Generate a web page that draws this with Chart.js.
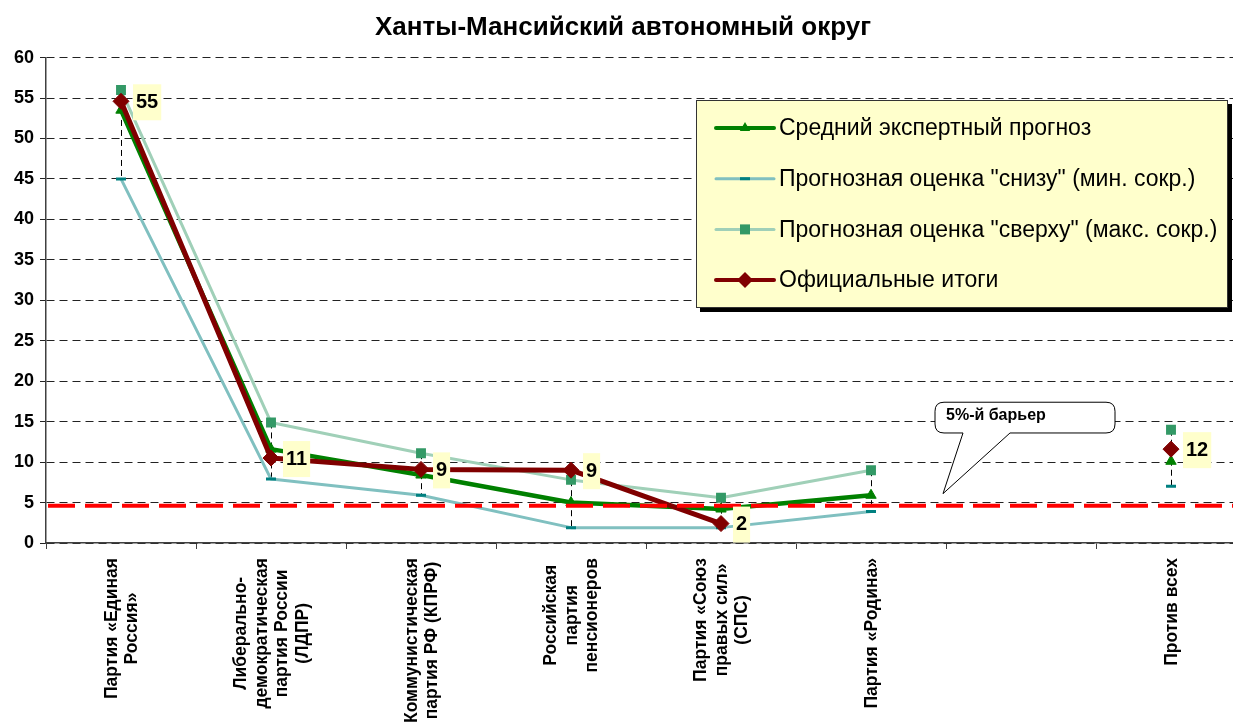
<!DOCTYPE html>
<html><head><meta charset="utf-8">
<script src="https://cdn.jsdelivr.net/npm/chart.js@4/dist/chart.umd.min.js"></script>
<style>html,body{margin:0;padding:0;overflow:hidden;background:#fff;}#wrap{width:1270px;height:724px;}</style>
</head><body><div id="wrap"><canvas id="c" width="1270" height="724"></canvas></div>
<script>
const chartTitle = 'Ханты-Мансийский автономный округ';
const categories = [
  ['Партия «Единая', 'Россия»'],
  ['Либерально-', 'демократическая', 'партия России', '(ЛДПР)'],
  ['Коммунистическая', 'партия РФ (КПРФ)'],
  ['Российская', 'партия', 'пенсионеров'],
  ['Партия «Союз', 'правых сил»', '(СПС)'],
  ['Партия «Родина»'],
  [''],
  ['Против всех']
];
const seriesNames = ['Средний экспертный прогноз', 'Прогнозная оценка "снизу" (мин. сокр.)', 'Прогнозная оценка "сверху" (макс. сокр.)', 'Официальные итоги'];
const meanForecast    = [53.5, 11.6, 8.4, 5.0, 4.2, 5.9, null, 10.1];
const lowEstimate     = [45.0, 7.9, 5.9, 1.9, 1.9, 3.9, null, 7.0];
const highEstimate    = [56.0, 14.9, 11.1, 7.8, 5.6, 9.0, null, 14.0];
const officialResults = [54.6, 10.5, 9.1, 9.0, 2.4, null, null, 11.6];
const yTickValues = [0, 5, 10, 15, 20, 25, 30, 35, 40, 45, 50, 55, 60];
const barrierValue = 4.6;
const barrierLabel = '5%-й барьер';

const FONT = "'Liberation Sans', Arial, sans-serif";

const colors = {
  mean: '#008000', low: '#80C0C0', lowMark: '#008080', high: '#A0D0B8', highMark: '#339966', off: '#800000'
};

function drawMarker(ctx, kind, x, y) {
  ctx.save();
  if (kind === 0) { ctx.fillStyle = colors.mean; ctx.beginPath(); ctx.moveTo(x, y - 6); ctx.lineTo(x + 5.2, y + 3); ctx.lineTo(x - 5.2, y + 3); ctx.closePath(); ctx.fill(); }
  if (kind === 1) { ctx.fillStyle = colors.lowMark; ctx.fillRect(x - 5, y - 1.5, 10, 3); }
  if (kind === 2) { ctx.fillStyle = colors.highMark; ctx.fillRect(x - 5, y - 5, 10, 10); }
  if (kind === 3) { ctx.fillStyle = colors.off; ctx.beginPath(); ctx.moveTo(x, y - 8); ctx.lineTo(x + 8, y); ctx.lineTo(x, y + 8); ctx.lineTo(x - 8, y); ctx.closePath(); ctx.fill(); }
  ctx.restore();
}

const extras = {
  id: 'extras',
  beforeDatasetsDraw(chart) {
    const ctx = chart.ctx, xs = chart.scales.x, ys = chart.scales.y;
    ctx.save();
    ctx.strokeStyle = '#000'; ctx.lineWidth = 1; ctx.setLineDash([6, 4]);
    for (let i = 0; i < categories.length; i++) {
      const vals = chart.data.datasets.map(d => d.data[i]).filter(v => v !== null && v !== undefined);
      if (vals.length < 2) continue;
      const x = Math.round(xs.getPixelForValue(i)) + 0.5;
      ctx.beginPath();
      ctx.moveTo(x, ys.getPixelForValue(Math.max(...vals)));
      ctx.lineTo(x, ys.getPixelForValue(Math.min(...vals)));
      ctx.stroke();
    }
    ctx.restore();
  },
  afterDatasetsDraw(chart) {
    const ctx = chart.ctx, xs = chart.scales.x, ys = chart.scales.y, ca = chart.chartArea;
    ctx.save();
    ctx.strokeStyle = '#FF0000'; ctx.lineWidth = 4; ctx.setLineDash([27, 10]);
    const by = ys.getPixelForValue(barrierValue);
    ctx.beginPath(); ctx.moveTo(ca.left + 2, by); ctx.lineTo(ca.right, by); ctx.stroke();
    ctx.restore();
    const meta = chart.getDatasetMeta(3);
    ctx.save();
    ctx.font = 'bold 20px ' + FONT;
    ctx.textBaseline = 'middle'; ctx.textAlign = 'left';
    meta.data.forEach((pt, i) => {
      const v = officialResults[i];
      if (v === null) return;
      const t = String(Math.round(v));
      const w = ctx.measureText(t).width + 6;
      const bx = pt.x + 12, bh = 36;
      ctx.fillStyle = '#FFFFCC';
      ctx.fillRect(bx, pt.y - bh / 2 + 1, w, bh);
      ctx.fillStyle = '#000';
      ctx.fillText(t, bx + 3, pt.y + 1);
    });
    ctx.restore();
  },
  afterDraw(chart) {
    const ctx = chart.ctx, xs = chart.scales.x, ys = chart.scales.y;
    ctx.save();
    ctx.font = 'bold 17.5px ' + FONT;
    ctx.fillStyle = '#000'; ctx.textBaseline = 'middle'; ctx.textAlign = 'center';
    const lh = 20.5;
    categories.forEach((lines, i) => {
      const x = xs.getPixelForValue(i);
      const maxW = Math.max(...lines.map(l => ctx.measureText(l).width));
      ctx.save();
      ctx.translate(x, xs.top + 15);
      ctx.rotate(-Math.PI / 2);
      lines.forEach((l, j) => {
        ctx.fillText(l, -maxW / 2, j * lh - (lines.length - 1) * lh / 2 + 1);
      });
      ctx.restore();
    });
    ctx.restore();

    ctx.save();
    const lx = 696, ly = 100, lw = 532, lhgt = 208;
    ctx.fillStyle = '#000'; ctx.fillRect(lx + 4, ly + 4, lw, lhgt);
    ctx.fillStyle = '#FFFFCC'; ctx.fillRect(lx, ly, lw, lhgt);
    ctx.strokeStyle = '#333'; ctx.lineWidth = 1; ctx.strokeRect(lx + 0.5, ly + 0.5, lw - 1, lhgt - 1);
    const lineCols = [colors.mean, colors.low, colors.high, colors.off];
    const lineW = [4, 3, 3, 4];
    ctx.font = '23px ' + FONT; ctx.textBaseline = 'middle'; ctx.textAlign = 'left';
    seriesNames.forEach((name, i) => {
      const ry = 128 + i * 50.7;
      ctx.strokeStyle = lineCols[i]; ctx.lineWidth = lineW[i]; ctx.lineCap = 'round';
      ctx.beginPath(); ctx.moveTo(716, ry); ctx.lineTo(774, ry); ctx.stroke();
      drawMarker(ctx, i, 745, ry);
      ctx.fillStyle = '#000';
      ctx.fillText(name, 779, ry + 1);
    });
    ctx.restore();

    ctx.save();
    const tipX = (xs.getPixelForValue(5) + xs.getPixelForValue(6)) / 2 - 3;
    const tipY = ys.getPixelForValue(6.1);
    const bL = tipX - 8, bR = tipX + 172, bT = ys.getPixelForValue(17.4), bB = ys.getPixelForValue(13.6), r = 9;
    ctx.beginPath();
    ctx.moveTo(bL + r, bT);
    ctx.lineTo(bR - r, bT); ctx.quadraticCurveTo(bR, bT, bR, bT + r);
    ctx.lineTo(bR, bB - r); ctx.quadraticCurveTo(bR, bB, bR - r, bB);
    ctx.lineTo(tipX + 67, bB);
    ctx.lineTo(tipX, tipY);
    ctx.lineTo(tipX + 20, bB);
    ctx.lineTo(bL + r, bB); ctx.quadraticCurveTo(bL, bB, bL, bB - r);
    ctx.lineTo(bL, bT + r); ctx.quadraticCurveTo(bL, bT, bL + r, bT);
    ctx.closePath();
    ctx.fillStyle = '#fff'; ctx.fill();
    ctx.strokeStyle = '#000'; ctx.lineWidth = 1; ctx.stroke();
    ctx.font = 'bold 16px ' + FONT; ctx.fillStyle = '#000'; ctx.textBaseline = 'middle'; ctx.textAlign = 'left';
    ctx.fillText(barrierLabel, bL + 11, bT + 13);
    ctx.restore();
  }
};

new Chart(document.getElementById('c'), {
  type: 'line',
  data: {
    labels: categories,
    datasets: [
      { label: seriesNames[0], data: meanForecast, borderColor: colors.mean, backgroundColor: colors.mean,
        pointBackgroundColor: colors.mean, pointBorderColor: colors.mean, borderWidth: 4.5, pointStyle: 'triangle',
        pointRadius: 6, pointBorderWidth: 1, order: 1, borderJoinStyle: 'round' },
      { label: seriesNames[1], data: lowEstimate, borderColor: colors.low, backgroundColor: colors.low,
        pointBackgroundColor: colors.lowMark, pointBorderColor: colors.lowMark, borderWidth: 3, pointStyle: 'line',
        pointRadius: 5, pointBorderWidth: 3, order: 3, borderJoinStyle: 'round' },
      { label: seriesNames[2], data: highEstimate, borderColor: colors.high, backgroundColor: colors.high,
        pointBackgroundColor: colors.highMark, pointBorderColor: colors.highMark, borderWidth: 3, pointStyle: 'rect',
        pointRadius: 7, pointBorderWidth: 0, order: 2, borderJoinStyle: 'round' },
      { label: seriesNames[3], data: officialResults, borderColor: colors.off, backgroundColor: colors.off,
        pointBackgroundColor: colors.off, pointBorderColor: colors.off, borderWidth: 5, pointStyle: 'rectRot',
        pointRadius: 8, pointBorderWidth: 1, order: 0, borderJoinStyle: 'round' }
    ]
  },
  options: {
    responsive: false,
    animation: false,
    layout: { padding: { left: 0, right: 24, top: 0, bottom: 0 } },
    plugins: {
      legend: { display: false },
      tooltip: { enabled: false },
      title: { display: true, text: chartTitle, color: '#000',
        font: { family: FONT, size: 26, weight: 'bold', lineHeight: 1.2 }, padding: { top: 12, bottom: 14.4 } }
    },
    scales: {
      x: {
        type: 'category', offset: true,
        grid: { offset: true, drawOnChartArea: false, drawTicks: true, tickLength: 6, color: '#404040' },
        border: { display: true, color: '#404040', width: 1.5 },
        ticks: { display: false },
        afterFit(s) { s.height = 181; }
      },
      y: {
        min: 0, max: 60,
        afterBuildTicks(s) { s.ticks = yTickValues.map(v => ({ value: v })); },
        ticks: { color: '#000', padding: 6, font: { family: FONT, size: 18, weight: 'bold' } },
        grid: { color: '#222', lineWidth: 1, tickLength: 6, drawTicks: true },
        border: { display: true, color: '#404040', width: 1.5, dash: [8, 5] },
        afterFit(s) { s.width = 46; }
      }
    }
  },
  plugins: [extras]
});
</script></body></html>
